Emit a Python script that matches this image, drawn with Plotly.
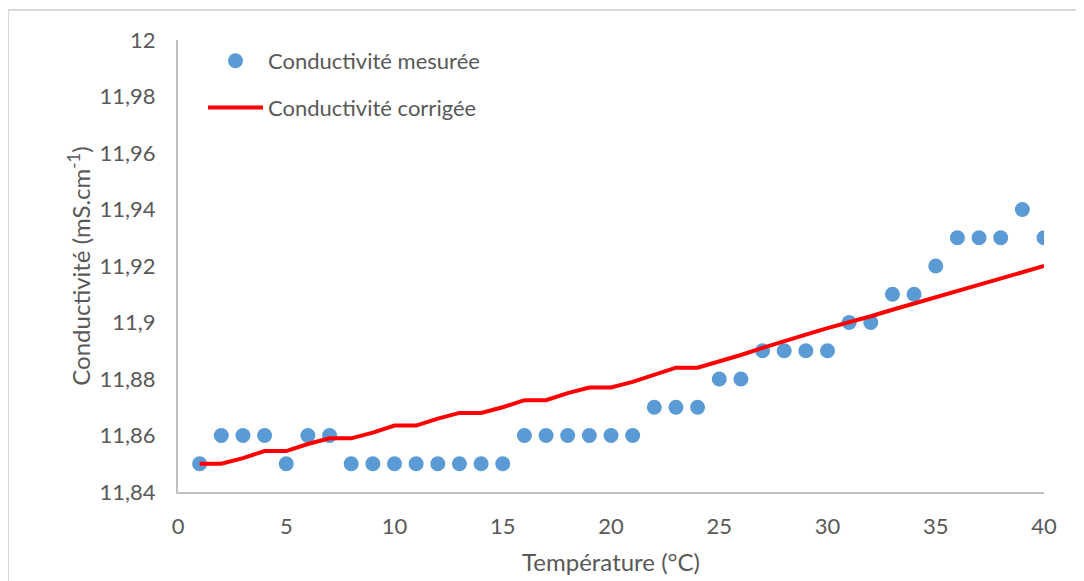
import plotly.graph_objects as go

temperature = list(range(1, 41))
conductivite_mesuree = [
    11.85, 11.86, 11.86, 11.86, 11.85, 11.86, 11.86, 11.85, 11.85, 11.85,
    11.85, 11.85, 11.85, 11.85, 11.85, 11.86, 11.86, 11.86, 11.86, 11.86,
    11.86, 11.87, 11.87, 11.87, 11.88, 11.88, 11.89, 11.89, 11.89, 11.89,
    11.90, 11.90, 11.91, 11.91, 11.92, 11.93, 11.93, 11.93, 11.94, 11.93,
]
conductivite_corrigee = [
    11.850, 11.850, 11.852, 11.8545, 11.8545, 11.857, 11.859, 11.859, 11.861, 11.8635,
    11.8635, 11.866, 11.868, 11.868, 11.870, 11.8725, 11.8725, 11.875, 11.877, 11.877,
    11.879, 11.8815, 11.884, 11.884, 11.8862, 11.8885, 11.891, 11.8935, 11.8957, 11.898,
    11.900, 11.9022, 11.9045, 11.9067, 11.909, 11.9112, 11.9135, 11.9157, 11.918, 11.920,
]
y_tickvals = [11.84, 11.86, 11.88, 11.90, 11.92, 11.94, 11.96, 11.98, 12.0]
y_ticktext = ["11,84", "11,86", "11,88", "11,9", "11,92", "11,94", "11,96", "11,98", "12"]
x_tickvals = [0, 5, 10, 15, 20, 25, 30, 35, 40]

FONT = "Lato, 'Open Sans', sans-serif"
GREY = "#595959"

fig = go.Figure()
fig.add_trace(go.Scatter(
    x=temperature, y=conductivite_mesuree, mode="markers",
    name="Conductivité mesurée", legendgroup="a",
    marker=dict(color="#5b9bd5", size=15, line=dict(width=0)),
))
fig.add_trace(go.Scatter(
    x=temperature, y=conductivite_corrigee, mode="lines",
    name="Conductivité corrigée", legendgroup="b",
    line=dict(color="#ff0000", width=4),
))

# page has an 8px body margin: figure coords = page coords - 8
OFF = 8
W, H = 1084 - OFF, 581 - OFF
L, R, T, B = 178 - OFF, 40, 40 - OFF, 581 - 492
pw, ph = W - L - R, H - T - B

def px_x(p):  # page pixel -> paper x
    return (p - OFF - L) / pw

def px_y(p):  # page pixel -> paper y
    return (H - B - (p - OFF)) / ph

fig.update_layout(
    width=W, height=H,
    margin=dict(l=L, r=R, t=T, b=B, autoexpand=False),
    paper_bgcolor="white", plot_bgcolor="white",
    font=dict(family=FONT, size=22, color=GREY),
    legend=dict(
        x=px_x(203), y=1.0, xanchor="left", yanchor="top",
        bgcolor="rgba(0,0,0,0)", font=dict(size=22, color=GREY),
        traceorder="grouped", tracegroupgap=15, itemwidth=55,
    ),
    xaxis=dict(
        range=[0, 40], tickvals=x_tickvals, showgrid=False, zeroline=False,
        showline=True, linecolor="#bfbfbf", linewidth=2, ticks="",
        ticklabelstandoff=14,
        title=dict(text="Température (°C)", font=dict(size=24, color=GREY), standoff=16),
    ),
    yaxis=dict(
        range=[11.84, 12.0], tickvals=y_tickvals, ticktext=y_ticktext,
        showgrid=False, zeroline=False, showline=True, linecolor="#bfbfbf",
        linewidth=2, ticks="", ticklabelstandoff=16,
        title=dict(text="Conductivité (mS.cm<sup>-1</sup>)", font=dict(size=24, color=GREY), standoff=2),
    ),
    shapes=[
        dict(type="line", xref="paper", yref="paper", x0=px_x(8), x1=px_x(1100),
             y0=px_y(10), y1=px_y(10), line=dict(color="#d9d9d9", width=2)),
        dict(type="line", xref="paper", yref="paper", x0=px_x(8), x1=px_x(8),
             y0=px_y(10), y1=px_y(600), line=dict(color="#d9d9d9", width=2)),
    ],
)

fig.write_html("out.html")
